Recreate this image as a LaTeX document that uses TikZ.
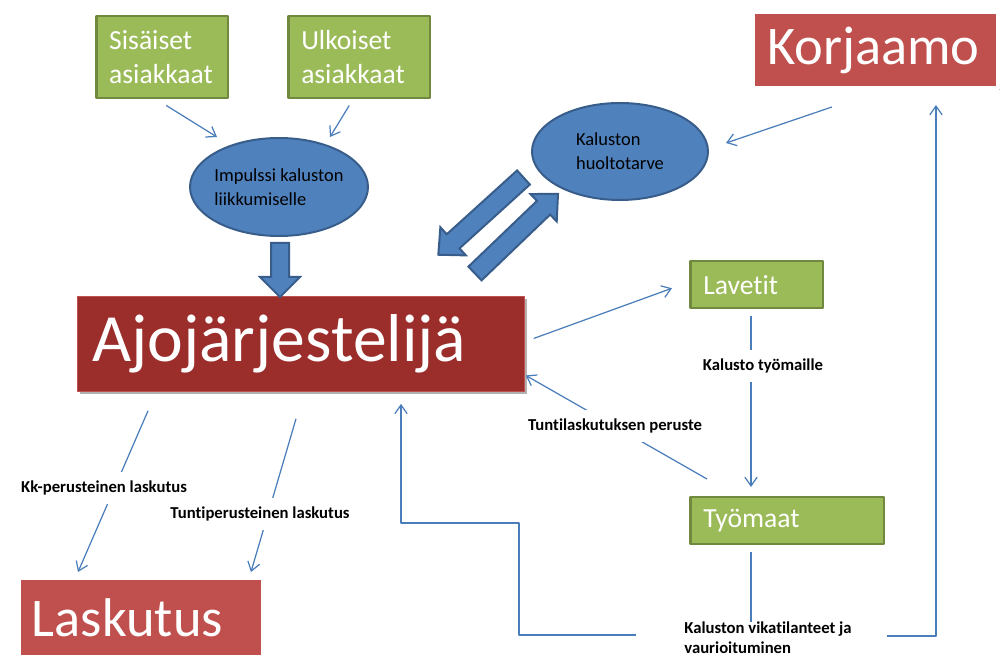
\documentclass[tikz,border=0pt]{standalone}
\usepackage{fontspec}
\setmainfont{Carlito}[Ligatures=NoCommon]
\usepackage{tikz}
\usetikzlibrary{arrows.meta}
\usetikzlibrary{calc}
\usetikzlibrary{shadows}
\usetikzlibrary{shapes.geometric}
\definecolor{green1}{RGB}{155,187,89}
\definecolor{green2}{RGB}{113,137,63}
\definecolor{red1}{RGB}{192,80,77}
\definecolor{red2}{RGB}{155,45,43}
\definecolor{blue1}{RGB}{79,129,189}
\definecolor{blue2}{RGB}{56,93,138}
\definecolor{line1}{RGB}{74,126,187}
\hyphenpenalty=10000
\exhyphenpenalty=10000

\begin{document}
\begin{tikzpicture}[x=0.02cm, y=-0.02cm]
	\begin{scope}[>={Straight Barb[length=5pt,width=7pt]}, line join=round,
		greenbox/.style={draw=green2, fill=green1, line width=0.05cm, text=white, align=left,
			anchor=north west, inner xsep=0.26cm, inner ysep=0pt,
			font=\fontsize{15.7}{19.3}\selectfont},
		redbox/.style={fill=red1, draw=white, line width=0.08cm, text=white, align=left,
			anchor=north west, inner ysep=0pt, font=\fontsize{31}{33}\selectfont,
			drop shadow={shadow xshift=0.05cm, shadow yshift=-0.05cm, opacity=0.3, fill=black}},
		blob/.style={ellipse, draw=blue2, fill=blue1, line width=0.04cm, align=left,
			inner sep=0pt, font=\fontsize{10.5}{13.6}\selectfont},
		fatarrow/.style={draw=blue2, fill=blue1, line width=0.04cm, line join=miter},
		conn/.style={draw=line1, line width=0.7pt, ->},
		wire/.style={draw=line1, line width=0.7pt},
		lbl/.style={fill=white, inner xsep=0.1cm, inner ysep=0.18cm,
			font=\bfseries\fontsize{9.5}{11.4}\selectfont}]

	\useasboundingbox (0,0) rectangle (1001,658);

	% customers
	\node[greenbox, text width=2.12cm, minimum height=1.64cm] (sis) at (95,15) {Sisäiset\\asiakkaat};
	\node[greenbox, text width=2.32cm, minimum height=1.64cm] (ulk) at (287,15) {Ulkoiset\\asiakkaat};

	% ellipses
	\node[blob, inner xsep=-0.05cm, minimum width=3.56cm, minimum height=1.96cm] (imp) at (279,187) {Impulssi kaluston\\liikkumiselle};
	\node[blob, minimum width=3.52cm, minimum height=1.94cm] (huol) at (620,151.5) {Kaluston\\huoltotarve};

	% red boxes
	\node[redbox, fill=red2, draw=red1, line width=0.5pt, inner xsep=0.3cm, text width=8.34cm,
		minimum height=1.9cm, font=\fontsize{38.5}{40}\selectfont] (ajo) at (77,296) {Ajojärjestelijä};
	\node[redbox, inner xsep=0.28cm, text width=4.34cm, minimum height=1.52cm] (korj) at (751,10) {Korjaamo};
	\node[redbox, inner xsep=0.25cm, text width=4.37cm, minimum height=1.58cm] (las) at (17.5,576) {Laskutus};

	% sites
	\node[greenbox, text width=2.14cm, minimum height=0.94cm] (lav) at (689,260) {Lavetit};
	\node[greenbox, text width=3.36cm, minimum height=0.94cm] (tyo) at (689,496) {Työmaat};

	\node[lbl, fill=none, inner sep=0pt, align=left, anchor=west] (vika) at (684,638)
		{Kaluston vikatilanteet ja\\vaurioituminen};

	% block arrows
	\foreach \tx/\ty/\ang/\len/\sw/\hw/\hl in {280/243/-90/54/9/20/20,
		523.5/177.5/222.2/115/9.5/19/20, 475/273.5/43.8/115/9.5/19/20}
	{
		\draw[fatarrow, shift={(\tx,\ty)}, rotate=\ang] (0,-\sw) -- ({\len-\hl},-\sw) -- ({\len-\hl},-\hw)
			-- (\len,0) -- ({\len-\hl},\hw) -- ({\len-\hl},\sw) -- (0,\sw) -- cycle;
	}

	% connectors
	\draw[conn] ($(sis.south)+(4,6)$) -- ($(imp)+(-62,-50)$);
	\draw[conn] ($(ulk.south)+(-10,6)$) -- ($(imp)+(51,-50)$);
	\draw[conn] ($(korj.south)+(-43.5,17)$) -- ($(huol)+(106,-8.5)$);
	\draw[conn] ($(ajo.east)+(9,-5.5)$) -- ($(lav.west)+(-17,3.5)$);
	\draw[conn] ($(lav.south west)+(62,7)$) -- ($(tyo.north west)+(62,-9)$);
	\draw[conn] ($(tyo.north west)+(18,-17)$) -- ($(ajo.east)+(1,31.5)$);
	\draw[conn] ($(ajo.south west)+(71,19)$) -- ($(las.north west)+(60.5,-4)$);
	\draw[conn] ($(ajo.south west)+(219,27)$) -- ($(las.north east)+(-14,-4)$);

	\coordinate (tyoB) at ($(tyo.south west)+(62,7)$);
	\draw[wire] (tyoB) -- (tyoB |- vika.north);
	\draw[conn] ($(vika.west)+(-48,-3)$) -- ++(-117,0) -- ++(0,-112) -| ($(ajo.south west)+(324,12)$);
	\draw[conn] ($(vika.east)+(35,-2)$) -| ($(korj.south)+(60.5,15)$);

	% labels
	\node[lbl] (kk) at (104,488) {Kk-perusteinen laskutus};
	\node[lbl] (tunti) at (260,514) {Tuntiperusteinen laskutus};
	\node[lbl] (kal) at (763,366) {Kalusto työmaille};
	\node[lbl] (tlask) at (615,426) {Tuntilaskutuksen peruste};

	\end{scope}
\end{tikzpicture}
\end{document}
